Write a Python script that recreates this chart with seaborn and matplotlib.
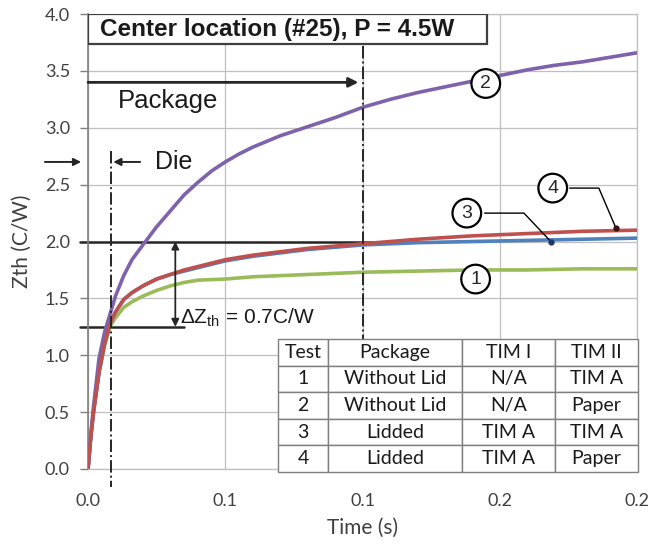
import numpy as np
import pandas as pd
import matplotlib
matplotlib.use("Agg")
import matplotlib.pyplot as plt
from matplotlib.patches import Rectangle
import seaborn as sns

# ---------------- data ----------------
time_test2 = [0, 0.001, 0.002, 0.004, 0.006, 0.008, 0.010, 0.013, 0.016, 0.020,
              0.025, 0.030, 0.035, 0.040, 0.045, 0.050, 0.055, 0.060, 0.070, 0.080,
              0.090, 0.100, 0.110, 0.120, 0.130, 0.140, 0.150, 0.160, 0.170, 0.180,
              0.190, 0.200]
zth_test2 = [0, 0.30, 0.55, 0.97, 1.20, 1.36, 1.52, 1.70, 1.84, 1.97,
             2.13, 2.27, 2.41, 2.52, 2.62, 2.70, 2.77, 2.83, 2.93, 3.01,
             3.09, 3.18, 3.25, 3.31, 3.36, 3.41, 3.46, 3.51, 3.55, 3.58,
             3.62, 3.66]

time_std = [0, 0.001, 0.002, 0.004, 0.006, 0.008, 0.010, 0.013, 0.016, 0.020,
            0.025, 0.030, 0.035, 0.040, 0.050, 0.060, 0.070, 0.080, 0.090, 0.100,
            0.120, 0.140, 0.160, 0.180, 0.200]
zth_test1 = [0, 0.28, 0.50, 0.85, 1.08, 1.25, 1.33, 1.42, 1.47, 1.52,
             1.57, 1.61, 1.64, 1.66, 1.67, 1.69, 1.70, 1.71, 1.72, 1.73,
             1.74, 1.75, 1.75, 1.76, 1.76]
zth_test3 = [0, 0.28, 0.50, 0.85, 1.10, 1.28, 1.38, 1.49, 1.55, 1.61,
             1.67, 1.71, 1.74, 1.77, 1.83, 1.87, 1.90, 1.93, 1.95, 1.97,
             1.99, 2.00, 2.01, 2.02, 2.03]
zth_test4 = [0, 0.28, 0.50, 0.85, 1.10, 1.28, 1.38, 1.49, 1.55, 1.61,
             1.67, 1.71, 1.75, 1.78, 1.84, 1.88, 1.91, 1.94, 1.96, 1.98,
             2.02, 2.05, 2.07, 2.09, 2.10]

test_ids = ["1", "2", "3", "4"]
test_colors = ["#9BBB59", "#7E62AC", "#4F81BD", "#C0504D"]

x_ticks = [0.0, 0.05, 0.10, 0.15, 0.20]
x_tick_labels = ["0.0", "0.1", "0.1", "0.2", "0.2"]
y_ticks = [0.0, 0.5, 1.0, 1.5, 2.0, 2.5, 3.0, 3.5, 4.0]
y_tick_labels = ["0.0", "0.5", "1.0", "1.5", "2.0", "2.5", "3.0", "3.5", "4.0"]

table_header = ["Test", "Package", "TIM I", "TIM II"]
table_rows = [["1", "Without Lid", "N/A", "TIM A"],
              ["2", "Without Lid", "N/A", "Paper"],
              ["3", "Lidded", "TIM A", "TIM A"],
              ["4", "Lidded", "TIM A", "Paper"]]

title_text = "Center location (#25), P = 4.5W"
die_time = 0.0082
package_time = 0.1
zth_upper = 2.0
zth_lower = 1.25

# ---------------- figure ----------------
sns.set_theme(style="whitegrid")
plt.rcParams["font.family"] = ["Lato", "DejaVu Sans"]
plt.rcParams["mathtext.fontset"] = "custom"
plt.rcParams["mathtext.rm"] = "Liberation Sans"
plt.rcParams["mathtext.it"] = "Liberation Sans"

fig = plt.figure(figsize=(6.52, 5.44), dpi=100)
ax = fig.add_axes([0.135, 0.138, 0.842, 0.836])

frames = [
    pd.DataFrame({"t": time_std, "z": zth_test1, "test": "1"}),
    pd.DataFrame({"t": time_test2, "z": zth_test2, "test": "2"}),
    pd.DataFrame({"t": time_std, "z": zth_test3, "test": "3"}),
    pd.DataFrame({"t": time_std, "z": zth_test4, "test": "4"}),
]
df = pd.concat(frames, ignore_index=True)
palette = dict(zip(test_ids, test_colors))
sns.lineplot(data=df, x="t", y="z", hue="test", hue_order=test_ids,
             palette=palette, estimator=None, sort=False, lw=2.6,
             legend=False, ax=ax, zorder=3)

ax.set_xlim(0, 0.2)
ax.set_ylim(0, 4.0)
ax.set_xticks(x_ticks)
ax.set_xticklabels(x_tick_labels)
ax.set_yticks(y_ticks)
ax.set_yticklabels(y_tick_labels)
ax.grid(True, color="#BFBFBF", lw=0.9)
ax.set_axisbelow(True)
for side in ["top", "right", "bottom"]:
    ax.spines[side].set_color("#BFBFBF")
    ax.spines[side].set_linewidth(0.9)
ax.spines["left"].set_color("#7F7F7F")
ax.spines["left"].set_linewidth(1.2)
ax.tick_params(axis="y", left=True, length=6, width=1.0, color="#7F7F7F",
               labelsize=13, labelcolor="#404040", pad=7)
ax.tick_params(axis="x", bottom=False, labelsize=13, labelcolor="#404040", pad=11)
ax.set_xlabel("Time (s)", fontsize=15, color="#404040", labelpad=7)
ax.set_ylabel("Zth (C/W)", fontsize=15, color="#404040", labelpad=9)

# title box
ax.add_patch(Rectangle((0, 0.934), 0.727, 0.066, transform=ax.transAxes,
                       fc="white", ec="#404040", lw=1.6, zorder=6))
ax.text(0.022, 0.966, title_text, transform=ax.transAxes, fontsize=17.5,
        fontweight="bold", family="Liberation Sans", va="center", ha="left",
        color="#1a1a1a", zorder=7)

dark = "#262626"
# vertical dash-dot markers
ax.plot([die_time, die_time], [2.80, -0.16], ls="-.", color=dark, lw=1.4,
        clip_on=False, zorder=4)
ax.plot([package_time, package_time], [3.72, -0.03], ls="-.", color=dark, lw=1.4,
        clip_on=False, zorder=4)

# Package arrow
ax.annotate("", xy=(package_time - 0.0015, 3.4), xytext=(0, 3.4),
            arrowprops=dict(arrowstyle="-|>", color=dark, lw=2.0,
                            mutation_scale=14, shrinkA=0, shrinkB=0), zorder=5)
ax.text(0.011, 3.24, "Package", fontsize=18.5, family="Liberation Sans",
        va="center", ha="left", color="#1a1a1a")

# Die arrows
ax.annotate("", xy=(-0.0025, 2.70), xytext=(-0.0157, 2.70),
            arrowprops=dict(arrowstyle="-|>", color=dark, lw=1.4,
                            mutation_scale=11, shrinkA=0, shrinkB=0),
            annotation_clip=False)
ax.annotate("", xy=(die_time + 0.001, 2.70), xytext=(0.019, 2.70),
            arrowprops=dict(arrowstyle="-|>", color=dark, lw=1.4,
                            mutation_scale=11, shrinkA=0, shrinkB=0))
ax.text(0.0245, 2.70, "Die", fontsize=18, family="Liberation Sans",
        va="center", ha="left", color="#1a1a1a")

# delta Zth lines
ax.plot([-0.003, 0.105], [zth_upper, zth_upper], color=dark, lw=1.8,
        clip_on=False, zorder=2.5)
ax.plot([-0.003, 0.035], [zth_lower, zth_lower], color=dark, lw=1.8,
        clip_on=False, zorder=2.5)
ax.annotate("", xy=(0.0318, zth_upper), xytext=(0.0318, zth_lower),
            arrowprops=dict(arrowstyle="<|-|>", color=dark, lw=1.3,
                            mutation_scale=11, shrinkA=0, shrinkB=0), zorder=5)
ax.text(0.0335, 1.33, r"$\Delta$Z$_{\rm th}$ = 0.7C/W", fontsize=15,
        va="center", ha="left", color="#1a1a1a", family="Liberation Sans")

# circled labels
circ = dict(boxstyle="circle,pad=0.3", fc="white", ec="black", lw=1.6)
labels_pos = {"1": (0.1412, 1.67), "2": (0.1449, 3.39),
              "3": (0.1380, 2.25), "4": (0.1693, 2.47)}
for k, (tx, tz) in labels_pos.items():
    ax.text(tx, tz, k, ha="center", va="center", fontsize=14,
            family="Liberation Sans", bbox=circ, zorder=8)

# leader lines for 3 and 4
ax.plot([0.1445, 0.1588, 0.1686], [2.25, 2.25, 2.00], color="black", lw=1.0, zorder=7)
ax.plot([0.1686], [2.00], marker="o", ms=3.5, color="#1F3864", zorder=7)
ax.plot([0.1755, 0.1861, 0.1923], [2.47, 2.47, 2.12], color="black", lw=1.0, zorder=7)
ax.plot([0.1923], [2.12], marker="o", ms=3.5, color="#3a1010", zorder=7)

# table
tbl = ax.table(cellText=table_rows, colLabels=table_header,
               colWidths=[0.139, 0.372, 0.258, 0.231], cellLoc="center",
               bbox=[0.346, -0.007, 0.656, 0.293])
tbl.auto_set_font_size(False)
tbl.set_fontsize(14)
tbl.set_zorder(10)
for (r, c), cell in tbl.get_celld().items():
    cell.set_edgecolor("#7F7F7F")
    cell.set_linewidth(1.0)
    cell.set_facecolor("white")
    cell.get_text().set_color("#1a1a1a")
    cell.get_text().set_fontfamily("Lato")

fig.savefig("out.png", dpi=100)
